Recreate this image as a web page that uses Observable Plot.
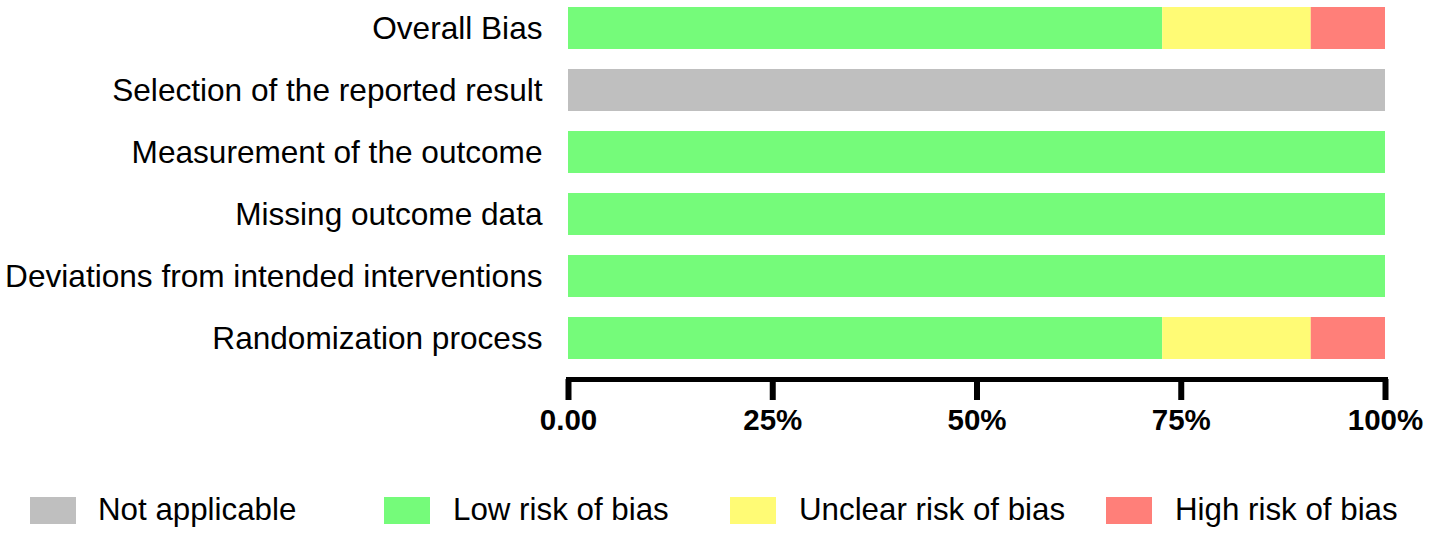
<!DOCTYPE html>
<html>
<head>
<meta charset="utf-8">
<script src="https://cdn.jsdelivr.net/npm/d3@7"></script>
<script src="https://cdn.jsdelivr.net/npm/@observablehq/plot@0.6"></script>
<style>
  html, body { margin: 0; padding: 0; background: #fff; }
  #wrap { position: relative; width: 1429px; height: 535px; font-family: "Liberation Sans", Arial, sans-serif; }
  #wrap svg { position: absolute; left: 0; top: 0; }
  .sw { position: absolute; width: 46px; height: 27px; top: 497px; }
  .lt { position: absolute; top: 493px; font-size: 31.3px; line-height: 34px; white-space: nowrap; color: #000; }
</style>
</head>
<body>
<div id="wrap"></div>
<script>
// Domains, top to bottom
const domains = [
  "Overall Bias",
  "Selection of the reported result",
  "Measurement of the outcome",
  "Missing outcome data",
  "Deviations from intended interventions",
  "Randomization process"
];
const categories = ["Not applicable", "Low risk of bias", "Unclear risk of bias", "High risk of bias"];
const colors = ["#BFBFBF", "#75FB7A", "#FFFB75", "#FF7F79"];
// percentages per domain, in category order
const notApplicable = [0, 100, 0, 0, 0, 0];
const lowRisk       = [72.73, 0, 100, 100, 100, 72.73];
const unclearRisk   = [18.18, 0, 0, 0, 0, 18.18];
const highRisk      = [9.09, 0, 0, 0, 0, 9.09];
const xTicks = [0, 25, 50, 75, 100];
const xTickLabels = ["0.00", "25%", "50%", "75%", "100%"];

const series = [notApplicable, lowRisk, unclearRisk, highRisk];
const rows = [];
domains.forEach((d, i) => {
  categories.forEach((c, j) => {
    if (series[j][i] > 0) rows.push({domain: d, category: c, value: series[j][i]});
  });
});

const chart = Plot.plot({
  width: 1429,
  height: 460,
  marginLeft: 568,
  marginRight: 44,
  marginTop: 7,
  marginBottom: 81,
  style: {fontFamily: "'Liberation Sans', Arial, sans-serif", color: "#000", background: "transparent"},
  x: {domain: [0, 100]},
  y: {domain: domains, paddingInner: 20 / 62, paddingOuter: 0, insetBottom: 20},
  color: {domain: categories, range: colors},
  marks: [
    Plot.barX(rows, Plot.stackX({
      y: "domain", x: "value", fill: "category",
      order: categories
    })),
    Plot.axisY({tickSize: 0, tickPadding: 26, fontSize: 31.6, label: null}),
    Plot.frame({anchor: "bottom", strokeWidth: 5, strokeLinecap: "square", stroke: "#000"}),
    Plot.axisX({
      ticks: xTicks,
      tickFormat: (d) => xTickLabels[xTicks.indexOf(d)],
      tickSize: 21, tickPadding: 9, strokeWidth: 6,
      fontSize: 29.5, fontWeight: "bold", label: null
    })
  ]
});
const wrap = document.getElementById("wrap");
wrap.appendChild(chart);

// Legend
const legendPos = [[30, 98], [384, 453], [730, 799], [1106, 1175]];
categories.forEach((c, i) => {
  const sw = document.createElement("div");
  sw.className = "sw";
  sw.style.left = legendPos[i][0] + "px";
  sw.style.background = colors[i];
  wrap.appendChild(sw);
  const t = document.createElement("div");
  t.className = "lt";
  t.style.left = legendPos[i][1] + "px";
  t.textContent = c;
  wrap.appendChild(t);
});
</script>
</body>
</html>
